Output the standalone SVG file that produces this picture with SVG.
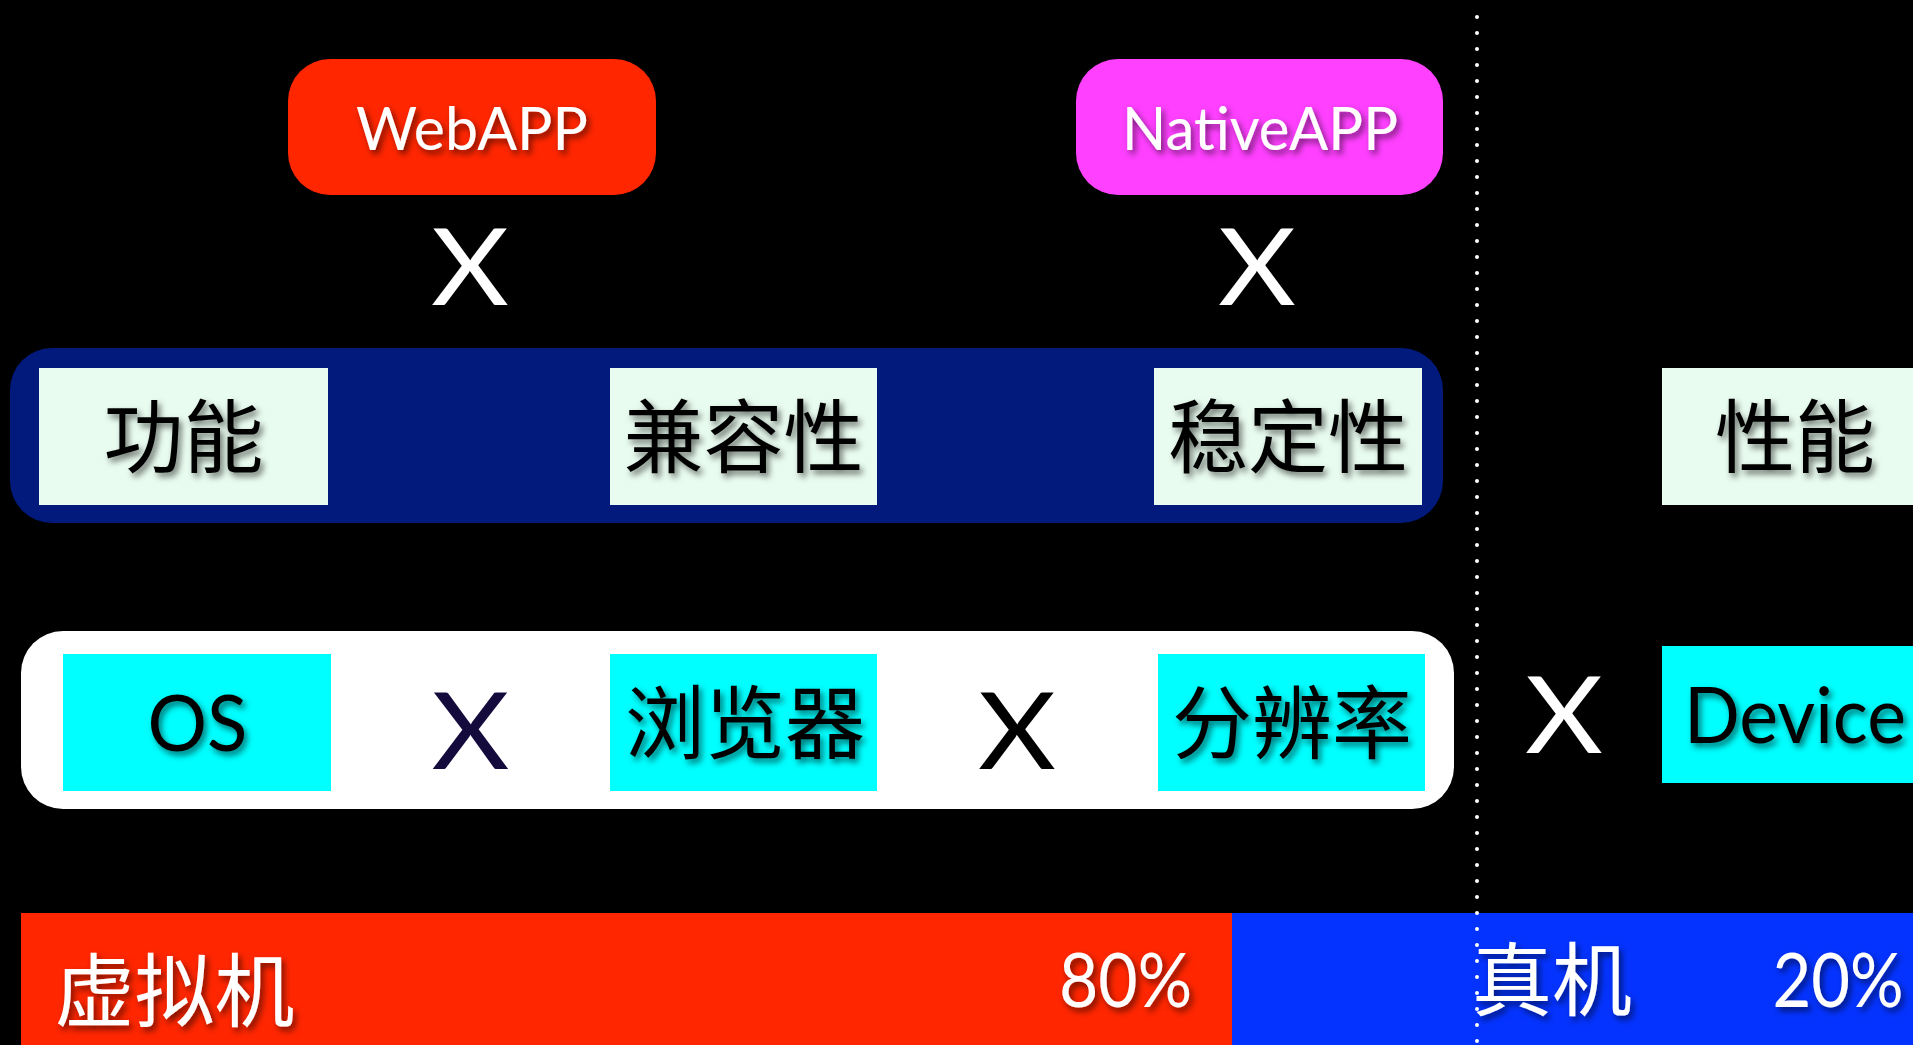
<svg xmlns="http://www.w3.org/2000/svg" width="1913" height="1045" viewBox="0 0 1913 1045">
<defs>
<filter id="sh" x="-20%" y="-30%" width="140%" height="160%">
<feDropShadow dx="3" dy="4" stdDeviation="3" flood-color="#000" flood-opacity="0.55"/>
</filter>
<style>
.lat{font-family:Lato,"Open Sans","Liberation Sans",sans-serif;}
.cjk{font-family:"Noto Sans CJK SC","Noto Sans",sans-serif;font-size:80px;text-anchor:middle;}
.mid{text-anchor:middle;}
.sh{filter:url(#sh);}
.mint{fill:#E9FCF0;}
.cyan{fill:#00FFFF;}
.x{font-size:107px;text-anchor:middle;}
</style>
</defs>
<rect width="1913" height="1045" fill="#000"/>

<g id="webapp">
<rect x="288" y="59" width="368" height="136" rx="42" fill="#FF2600"/>
<text class="lat mid sh" x="472" y="150" font-size="60" fill="#fff" textLength="232" lengthAdjust="spacingAndGlyphs">WebAPP</text>
</g>
<g id="nativeapp">
<rect x="1076" y="59" width="367" height="136" rx="42" fill="#FF40FF"/>
<text class="lat mid sh" x="1260" y="150" font-size="60" fill="#fff" textLength="276" lengthAdjust="spacingAndGlyphs">NativeAPP</text>
</g>
<g id="x-web"><text class="lat x" x="470" y="305" fill="#fff" textLength="78" lengthAdjust="spacingAndGlyphs">X</text></g>
<g id="x-native"><text class="lat x" x="1257" y="305" fill="#fff" textLength="78" lengthAdjust="spacingAndGlyphs">X</text></g>

<g id="test-types">
<rect x="10" y="348" width="1433" height="175" rx="42" fill="#011A7B"/>
</g>
<g id="func">
<rect class="mint" x="39" y="368" width="289" height="137"/>
<text class="cjk sh" x="183.5" y="466" fill="#000">功能</text>
</g>
<g id="compat">
<rect class="mint" x="610" y="368" width="267" height="137"/>
<text class="cjk sh" x="743.5" y="466" fill="#000">兼容性</text>
</g>
<g id="stability">
<rect class="mint" x="1154" y="368" width="268" height="137"/>
<text class="cjk sh" x="1288" y="466" fill="#000">稳定性</text>
</g>
<g id="perf">
<rect class="mint" x="1662" y="368" width="267" height="137"/>
<text class="cjk sh" x="1795" y="466" fill="#000">性能</text>
</g>

<g id="env">
<rect x="21" y="631" width="1433" height="178" rx="42" fill="#fff"/>
</g>
<g id="os">
<rect class="cyan" x="63" y="654" width="268" height="137"/>
<text class="lat mid sh" x="197.5" y="751" font-size="78" fill="#000" textLength="100" lengthAdjust="spacingAndGlyphs">OS</text>
</g>
<g id="x-os"><text class="lat x" x="470.5" y="769" fill="#140A3C" textLength="78" lengthAdjust="spacingAndGlyphs">X</text></g>
<g id="browser">
<rect class="cyan" x="610" y="654" width="267" height="137"/>
<text class="cjk sh" x="745" y="752" fill="#000">浏览器</text>
</g>
<g id="x-browser"><text class="lat x" x="1017" y="769" fill="#000" textLength="78" lengthAdjust="spacingAndGlyphs">X</text></g>
<g id="resolution">
<rect class="cyan" x="1158" y="654" width="267" height="137"/>
<text class="cjk sh" x="1292" y="752" fill="#000">分辨率</text>
</g>
<g id="x-device"><text class="lat x" x="1564" y="753" fill="#fff" textLength="78" lengthAdjust="spacingAndGlyphs">X</text></g>
<g id="device">
<rect class="cyan" x="1662" y="646" width="267" height="137"/>
<text class="lat sh" x="1684" y="743" font-size="77" fill="#000" textLength="222" lengthAdjust="spacingAndGlyphs">Device</text>
</g>

<g id="emulator">
<rect x="21" y="913" width="1211" height="132" fill="#FF2600"/>
<text class="cjk sh" x="174.5" y="1020" fill="#fff">虚拟机</text>
<text class="lat mid sh" x="1125.5" y="1007" font-size="75" fill="#fff" textLength="133" lengthAdjust="spacingAndGlyphs">80%</text>
</g>
<g id="real">
<rect x="1232" y="913" width="681" height="132" fill="#0433FF"/>
<text class="cjk sh" x="1552" y="1009" fill="#fff">真机</text>
<text class="lat mid sh" x="1838" y="1007" font-size="75" fill="#fff" textLength="131" lengthAdjust="spacingAndGlyphs">20%</text>
</g>

<g id="connectors">
<line x1="1477" y1="17" x2="1477" y2="1045" stroke="#fff" stroke-width="4" stroke-linecap="round" stroke-dasharray="0 16"/>
</g>
</svg>
